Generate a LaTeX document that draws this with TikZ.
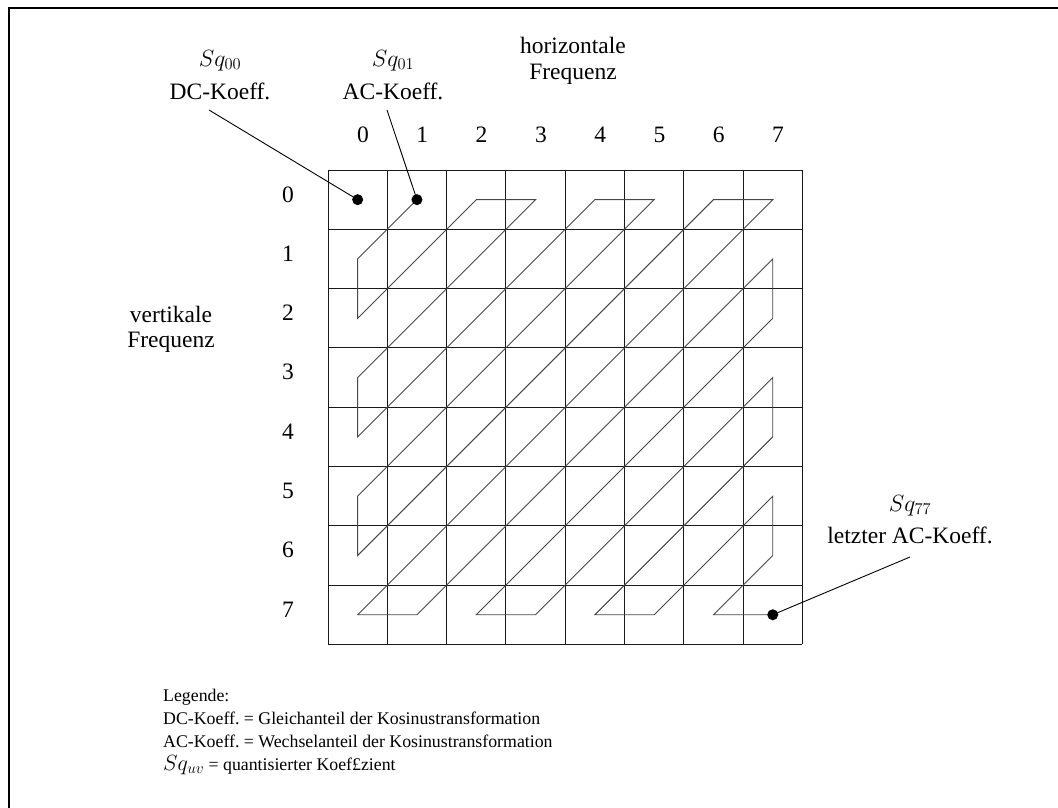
\RequirePackage{fix-cm}
\documentclass[tikz,border=0pt]{standalone}
\usepackage[no-math]{fontspec}
\setmainfont{Liberation Serif}
\frenchspacing
\begin{document}
\begin{tikzpicture}[x=1pt,y=-1pt,
  lbl/.style={inner sep=0pt, anchor=base, font=\fontsize{23.5}{26}\selectfont},
  legendline/.style={inner sep=0pt, anchor=base west, font=\fontsize{17.8}{21}\selectfont},
  gridline/.style={line width=1pt, draw=black!90},
  zigzag/.style={line width=0.9pt, draw=black!72, line join=miter},
  leader/.style={line width=0.9pt, draw=black},
  coefdot/.style={circle, fill=black, inner sep=0pt, minimum size=11pt},
  frameline/.style={line width=2.6pt, line cap=rect}]
\useasboundingbox (0,0) rectangle (1058,807);

% outer frame (top and left edges)
\draw[frameline] (9,807) -- (9,8) -- (1058,8);

% 8x8 coefficient grid
\def\cs{59.3}
\foreach \i in {0,...,8} {
  \draw[gridline] ({328+\i*\cs},170) -- ({328+\i*\cs},{170+8*\cs});
  \draw[gridline] (328,{170+\i*\cs}) -- ({328+8*\cs},{170+\i*\cs});
}

% cell centres
\foreach \r in {0,...,7}
  \foreach \c in {0,...,7}
    \coordinate (m-\r-\c) at ({328+(\c+0.5)*\cs},{170+(\r+0.5)*\cs});

% zig-zag scan order
\draw[zigzag] (m-0-1) -- (m-1-0) -- (m-2-0) -- (m-0-2) -- (m-0-3) -- (m-3-0)
  -- (m-4-0) -- (m-0-4) -- (m-0-5) -- (m-5-0) -- (m-6-0) -- (m-0-6) -- (m-0-7)
  -- (m-7-0) -- (m-7-1) -- (m-1-7) -- (m-2-7) -- (m-7-2) -- (m-7-3) -- (m-3-7)
  -- (m-4-7) -- (m-7-4) -- (m-7-5) -- (m-5-7) -- (m-6-7) -- (m-7-6) -- (m-7-7);

% marked coefficients
\node[coefdot] (d00) at (m-0-0) {};
\node[coefdot] (d01) at (m-0-1) {};
\node[coefdot] (d77) at (m-7-7) {};

% column and row indices
\foreach \c in {0,...,7}
  \node[lbl] (col-\c) at ({363+\c*\cs},142) {\c};
\foreach \r in {0,...,7}
  \node[lbl] (row-\r) at (288,{202+\r*\cs}) {\r};

% axis titles
\node[lbl] (hz1) at (573,53) {horizontale};
\node[lbl] (hz2) at (573,79) {Frequenz};
\node[lbl] (vt1) at (171,322) {vertikale};
\node[lbl] (vt2) at (171,347) {Frequenz};

% callouts
\node[lbl] (sq00) at (220,66) {$Sq_{00}$};
\node[lbl] (dc)   at (220,99) {DC-Koeff.};
\node[lbl] (sq01) at (393,66) {$Sq_{01}$};
\node[lbl] (ac)   at (393,99) {AC-Koeff.};
\node[lbl] (sq77) at (910,511) {$Sq_{77}$};
\node[lbl] (last) at (910,543) {letzter AC-Koeff.};

\coordinate (dcfoot) at (209,110);
\coordinate (acfoot) at (387,110);
\coordinate (lastfoot) at (910,557);
\draw[leader] (dcfoot) -- (d00.center);
\draw[leader] (acfoot) -- (d01.center);
\draw[leader] (lastfoot) -- (d77.center);

% legend
\node[legendline] (leg0) at (163,701) {Legende:};
\node[legendline] (leg1) at (163,724) {DC-Koeff. = Gleichanteil der Kosinustransformation};
\node[legendline] (leg2) at (163,747) {AC-Koeff. = Wechselanteil der Kosinustransformation};
\node[legendline] (leg3) at (163,770) {{\fontsize{22}{21}\selectfont$Sq_{uv}$} = quantisierter Koef£zient};
\end{tikzpicture}
\end{document}
